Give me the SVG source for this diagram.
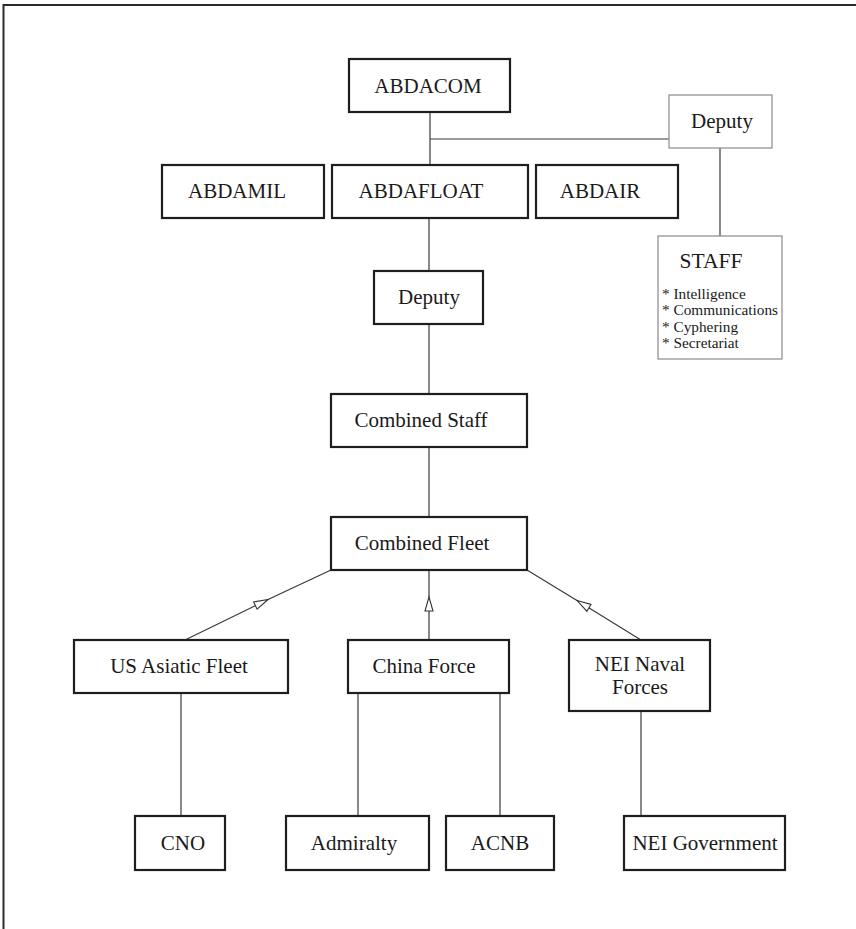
<svg xmlns="http://www.w3.org/2000/svg" width="856" height="929" viewBox="0 0 856 929">
<style>
  .box { fill: #fff; stroke: #1e1e1e; stroke-width: 2.2; }
  .thin { fill: #fff; stroke: #8a8a8a; stroke-width: 1.2; }
  .lbl { font-family: "Liberation Serif", "Times New Roman", serif; font-size: 21px; fill: #1a1a1a; text-anchor: middle; }
  .title { font-family: "Liberation Serif", "Times New Roman", serif; font-size: 21.5px; fill: #1a1a1a; text-anchor: middle; }
  .item { font-family: "Liberation Serif", "Times New Roman", serif; font-size: 15.3px; fill: #1a1a1a; }
  .conn { fill: none; stroke: #3a3a3a; stroke-width: 1.2; }
  .frame { fill: none; stroke: #2a2a2a; stroke-width: 2; }
</style>
<defs>
  <marker id="tri" viewBox="-16 -6 18 12" refX="0" refY="0" markerWidth="18" markerHeight="12" markerUnits="userSpaceOnUse" orient="auto">
    <path d="M0,0 L-14,-4 L-14,4 Z" fill="#fff" stroke="#333" stroke-width="1.1"/>
  </marker>
</defs>
<rect width="856" height="929" fill="#fff"/>
<path class="frame" d="M3.5,929 L3.5,5 L856,5"/>

<g id="connectors">
  <path class="conn" d="M430,112 L430,165"/>
  <path class="conn" d="M430,139 L669,139"/>
  <path class="conn" d="M720,148 L720,236"/>
  <path class="conn" d="M429,218 L429,271"/>
  <path class="conn" d="M429,324 L429,394"/>
  <path class="conn" d="M429,447 L429,517"/>
  <path class="conn" d="M185,640 L268,599.5 L331,570" marker-mid="url(#tri)"/>
  <path class="conn" d="M429,640 L429,597 L429,570" marker-mid="url(#tri)"/>
  <path class="conn" d="M641,640 L577,600.5 L527,570" marker-mid="url(#tri)"/>
  <path class="conn" d="M181,693 L181,816"/>
  <path class="conn" d="M358,693 L358,816"/>
  <path class="conn" d="M500,693 L500,816"/>
  <path class="conn" d="M641,711 L641,816"/>
</g>

<g id="abdacom"><rect class="box" x="349" y="59" width="161" height="53"/><text class="lbl" x="428" y="93">ABDACOM</text></g>
<g id="deputy-top"><rect class="thin" x="669" y="95" width="103" height="53"/><text class="lbl" x="722" y="128">Deputy</text></g>
<g id="abdamil"><rect class="box" x="162" y="165" width="162" height="53"/><text class="lbl" x="237" y="198">ABDAMIL</text></g>
<g id="abdafloat"><rect class="box" x="332" y="165" width="196" height="53"/><text class="lbl" x="421" y="198">ABDAFLOAT</text></g>
<g id="abdair"><rect class="box" x="536" y="165" width="142" height="53"/><text class="lbl" x="600" y="198">ABDAIR</text></g>
<g id="staff"><rect class="thin" x="658" y="236" width="124" height="123"/>
  <text class="title" x="711" y="268">STAFF</text>
  <text class="item" x="662" y="299">* Intelligence</text>
  <text class="item" x="662" y="315">* Communications</text>
  <text class="item" x="662" y="332">* Cyphering</text>
  <text class="item" x="662" y="348">* Secretariat</text>
</g>
<g id="deputy-mid"><rect class="box" x="374" y="271" width="109" height="53"/><text class="lbl" x="429" y="304">Deputy</text></g>
<g id="combined-staff"><rect class="box" x="331" y="394" width="196" height="53"/><text class="lbl" x="421" y="427">Combined Staff</text></g>
<g id="combined-fleet"><rect class="box" x="331" y="517" width="196" height="53"/><text class="lbl" x="422" y="550">Combined Fleet</text></g>
<g id="us-asiatic"><rect class="box" x="74" y="640" width="214" height="53"/><text class="lbl" x="179" y="673">US Asiatic Fleet</text></g>
<g id="china-force"><rect class="box" x="348" y="640" width="161" height="53"/><text class="lbl" x="424" y="673">China Force</text></g>
<g id="nei-naval"><rect class="box" x="569" y="640" width="141" height="71"/><text class="lbl" x="640" y="671">NEI Naval</text><text class="lbl" x="640" y="694">Forces</text></g>
<g id="cno"><rect class="box" x="135" y="816" width="90" height="54"/><text class="lbl" x="183" y="850">CNO</text></g>
<g id="admiralty"><rect class="box" x="286" y="816" width="143" height="54"/><text class="lbl" x="354" y="850">Admiralty</text></g>
<g id="acnb"><rect class="box" x="446" y="816" width="108" height="54"/><text class="lbl" x="500" y="850">ACNB</text></g>
<g id="nei-gov"><rect class="box" x="624" y="816" width="161" height="54"/><text class="lbl" x="705" y="850">NEI Government</text></g>
</svg>
